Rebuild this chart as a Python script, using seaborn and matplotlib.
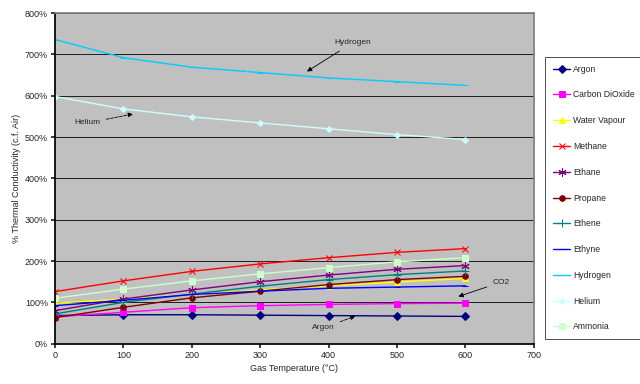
import pandas as pd
import matplotlib.pyplot as plt
import seaborn as sns

sns.set_theme(style="white")
plt.rcParams["font.family"] = ["Liberation Sans", "DejaVu Sans"]

temps = [0, 100, 200, 300, 400, 500, 600]
gases = ["Argon", "Carbon DiOxide", "Water Vapour", "Methane", "Ethane", "Propane",
         "Ethene", "Ethyne", "Hydrogen", "Helium", "Ammonia"]
argon = [68, 70, 70, 69, 68, 67, 66]
co2 = [65, 76, 87, 92, 95, 97, 98]
water = [98, 108, 119, 130, 140, 149, 158]
methane = [126, 152, 175, 193, 208, 221, 230]
ethane = [80, 108, 130, 150, 166, 180, 189]
propane = [63, 88, 111, 127, 143, 155, 163]
ethene = [72, 100, 120, 139, 155, 167, 176]
ethyne = [92, 105, 119, 127, 134, 137, 140]
hydrogen = [736, 692, 669, 656, 643, 634, 625]
helium = [598, 568, 549, 534, 520, 506, 494]
ammonia = [110, 132, 152, 169, 184, 198, 208]
values = [argon, co2, water, methane, ethane, propane, ethene, ethyne, hydrogen, helium, ammonia]

colors = ["#000080", "#FF00FF", "#FFFF00", "#FF0000", "#800080", "#800000",
          "#008080", "#0000FF", "#00CCFF", "#CCFFFF", "#CCFFCC"]
marks = ["D", "s", "^", "x", (6, 2, 0), "o", "+", "_", "_", "D", "s"]
msizes = [4, 5, 5, 5, 6, 4, 6, 5, 5, 3, 5]

rows = []
for g, vals in zip(gases, values):
    for t, v in zip(temps, vals):
        rows.append({"Gas": g, "Temp": t, "Value": v})
df = pd.DataFrame(rows)

fig = plt.figure(figsize=(6.4, 3.84), dpi=100)
ax = fig.add_axes([0.086, 0.105, 0.748, 0.861])
ax.set_facecolor("#C0C0C0")

for g, c, m, ms in zip(gases, colors, marks, msizes):
    sub = df[df["Gas"] == g]
    sns.lineplot(data=sub, x="Temp", y="Value", color=c, marker=m, markersize=ms,
                 markeredgecolor=c, markerfacecolor=c, linewidth=1.0, label=g, ax=ax)

ax.set_xlim(0, 700)
ax.set_ylim(0, 800)
ax.set_xticks(range(0, 701, 100))
ax.set_yticks(range(0, 801, 100))
ax.set_yticklabels([f"{v}%" for v in range(0, 801, 100)])
ax.tick_params(labelsize=6.5, length=3, direction="out", bottom=True, left=True, pad=2)
for y in range(100, 801, 100):
    ax.axhline(y, color="#202020", linewidth=0.7, zorder=0.5)
for s in ["top", "right"]:
    ax.spines[s].set_color("#808080")
for s in ["left", "bottom"]:
    ax.spines[s].set_color("black")
ax.set_xlabel("Gas Temperature (\u00b0C)", fontsize=6.5, labelpad=3)
ax.set_ylabel("% Thermal Conductivity (c.f. Air)", fontsize=6.5, labelpad=3)

arrow = dict(arrowstyle="-|>", color="black", lw=0.6, mutation_scale=7)
ax.annotate("Hydrogen", xy=(365, 655), xytext=(408, 728), fontsize=6, va="center",
            arrowprops=arrow)
ax.annotate("Helium", xy=(118, 557), xytext=(47, 534), fontsize=6, va="center", ha="center",
            arrowprops=dict(arrow, linestyle="--"))
ax.annotate("CO2", xy=(586, 112), xytext=(640, 149), fontsize=6, va="center",
            arrowprops=arrow)
ax.annotate("Argon", xy=(443, 69), xytext=(392, 38), fontsize=6, va="center", ha="center",
            arrowprops=dict(arrow, linestyle="--"))

h, l = ax.get_legend_handles_labels()
ax.get_legend().remove()
leg = fig.legend(h, l, loc="upper left", bbox_to_anchor=(0.852, 0.852), fontsize=6.2,
                 frameon=True, fancybox=False, edgecolor="black", labelspacing=1.95,
                 handlelength=2.0, handletextpad=0.3, borderpad=0.9, borderaxespad=0)
leg.get_frame().set_linewidth(0.6)

fig.savefig("out.png", dpi=100)
